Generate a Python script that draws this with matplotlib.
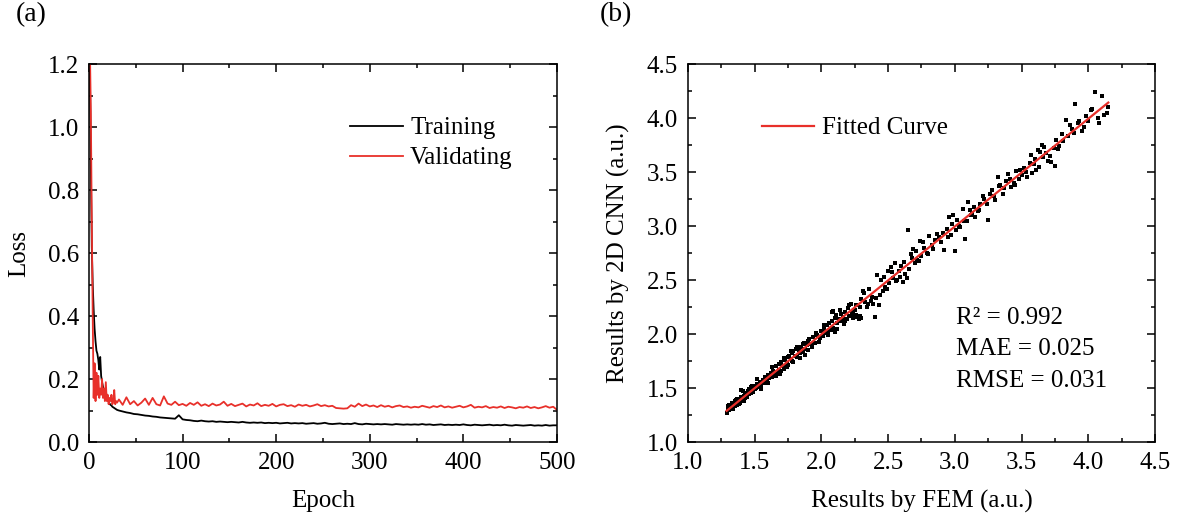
import numpy as np
import matplotlib
matplotlib.use("Agg")
import matplotlib.pyplot as plt
from matplotlib.ticker import MultipleLocator

plt.rcParams['font.family'] = ['Liberation Serif', 'DejaVu Serif']

# (a) loss history: epochs 1-30 every epoch, then every 4th epoch
epochs = np.concatenate([np.arange(1, 31), np.arange(32, 501, 4)])

train_loss = [
    1.18, 0.88, 0.62, 0.50, 0.42, 0.36, 0.32, 0.29, 0.28, 0.26,
    0.23, 0.27, 0.21, 0.19, 0.175, 0.165, 0.155, 0.16, 0.145, 0.135,
    0.128, 0.122, 0.118, 0.116, 0.112, 0.110, 0.108, 0.106, 0.104, 0.102,
    0.100, 0.097, 0.094, 0.092, 0.089, 0.088, 0.086, 0.084, 0.083, 0.081,
    0.080, 0.078, 0.077, 0.076, 0.075, 0.074, 0.085, 0.072, 0.070, 0.069,
    0.067, 0.066, 0.068, 0.066, 0.065, 0.066, 0.064, 0.065, 0.064, 0.063,
    0.064, 0.063, 0.062, 0.064, 0.062, 0.061, 0.062, 0.061, 0.062, 0.060,
    0.061, 0.060, 0.061, 0.059, 0.060, 0.061, 0.059, 0.060, 0.059, 0.060,
    0.058, 0.059, 0.060, 0.058, 0.059, 0.061, 0.058, 0.057, 0.058, 0.059,
    0.057, 0.058, 0.057, 0.060, 0.057, 0.056, 0.058, 0.057, 0.056, 0.057,
    0.056, 0.057, 0.056, 0.055, 0.057, 0.056, 0.055, 0.056, 0.055, 0.056,
    0.055, 0.057, 0.055, 0.056, 0.054, 0.055, 0.056, 0.054, 0.055, 0.054,
    0.055, 0.054, 0.056, 0.054, 0.053, 0.055, 0.054, 0.053, 0.054, 0.055,
    0.053, 0.054, 0.053, 0.055, 0.053, 0.052, 0.054, 0.053, 0.052, 0.053,
    0.054, 0.052, 0.053, 0.052, 0.054, 0.052, 0.053, 0.053,
]

val_loss = [
    1.25, 1.05, 0.70, 0.40, 0.14, 0.25, 0.13, 0.22, 0.15, 0.21,
    0.14, 0.17, 0.15, 0.20, 0.14, 0.17, 0.13, 0.19, 0.13, 0.15,
    0.12, 0.14, 0.13, 0.15, 0.12, 0.13, 0.165, 0.12, 0.13, 0.125,
    0.135, 0.118, 0.142, 0.120, 0.130, 0.116, 0.125, 0.138, 0.118, 0.140,
    0.120, 0.116, 0.145, 0.122, 0.118, 0.128, 0.117, 0.121, 0.115, 0.124,
    0.118, 0.126, 0.115, 0.120, 0.114, 0.122, 0.116, 0.119, 0.128, 0.115,
    0.121, 0.114, 0.118, 0.122, 0.113, 0.119, 0.116, 0.123, 0.114, 0.118,
    0.115, 0.121, 0.113, 0.118, 0.120, 0.114, 0.117, 0.112, 0.119, 0.115,
    0.118, 0.113, 0.116, 0.120, 0.114, 0.117, 0.113, 0.115, 0.108, 0.107,
    0.106, 0.107, 0.117, 0.112, 0.122, 0.114, 0.119, 0.113, 0.116, 0.111,
    0.117, 0.112, 0.115, 0.110, 0.114, 0.116, 0.111, 0.113, 0.109, 0.112,
    0.110, 0.115, 0.112, 0.109, 0.114, 0.111, 0.116, 0.110, 0.113, 0.109,
    0.112, 0.115, 0.110, 0.113, 0.118, 0.109, 0.112, 0.110, 0.114, 0.108,
    0.111, 0.109, 0.113, 0.108, 0.112, 0.110, 0.107, 0.111, 0.109, 0.113,
    0.108, 0.111, 0.107, 0.110, 0.114, 0.109, 0.112, 0.102,
]

# (b) FEM vs CNN predictions
fem_x = [
    1.29, 1.30, 1.30, 1.31, 1.32, 1.32, 1.33, 1.33, 1.34, 1.35, 1.35, 1.36, 1.37, 1.37, 1.38, 1.39, 1.39, 1.40,
    1.40, 1.41, 1.42, 1.42, 1.43, 1.44, 1.45, 1.45, 1.46, 1.47, 1.47, 1.48, 1.49, 1.49, 1.50, 1.50, 1.41,
    1.51, 1.52, 1.53, 1.54, 1.55, 1.56, 1.57, 1.58, 1.58, 1.59, 1.60, 1.61, 1.62, 1.63, 1.64, 1.65, 1.66,
    1.67, 1.68, 1.68, 1.69, 1.70, 1.71, 1.72, 1.73, 1.74, 1.75, 1.75, 1.76, 1.77, 1.78, 1.78, 1.79, 1.80,
    1.81, 1.82, 1.83, 1.84, 1.85, 1.86, 1.87, 1.88, 1.89, 1.90, 1.91, 1.92, 1.94, 1.95, 1.97, 1.99,
    2.00, 2.01, 2.02, 2.03, 2.04, 2.05, 2.06, 2.07, 2.08, 2.08, 2.09, 2.10, 2.10, 2.11, 2.12, 2.13, 2.14,
    2.15, 2.16, 2.17, 2.18, 2.19, 2.20, 2.21, 2.22, 2.23, 2.24, 2.25, 2.26, 2.27, 2.28, 2.29, 2.30, 2.30,
    2.32, 2.33, 2.35, 2.36, 2.38, 2.40,
    2.41, 2.42, 2.43, 2.45, 2.46, 2.48, 2.50, 2.51, 2.52, 2.54, 2.55, 2.56, 2.58, 2.59, 2.60, 2.61, 2.63,
    2.65, 2.66, 2.68, 2.70, 2.71, 2.72, 2.74, 2.75, 2.77, 2.79, 2.81, 2.83, 2.85, 2.88, 2.90, 2.92, 2.94, 2.96,
    2.97, 2.98, 3.00, 3.01, 3.02, 3.04, 3.06, 3.08, 3.09, 3.10, 3.12, 3.14, 3.15, 3.17, 3.19, 3.22, 3.25,
    3.26, 3.28, 3.30, 3.32, 3.34, 3.36, 3.38, 3.40, 3.42, 3.44, 3.46, 3.48, 3.50,
    3.52, 3.54, 3.56, 3.57, 3.58, 3.60, 3.62, 3.63, 3.65, 3.66, 3.68, 3.70, 3.72, 3.74, 3.75, 3.76, 3.78,
    3.80, 3.83, 3.85, 3.88, 3.90, 3.92, 3.95, 3.98, 4.00, 4.03, 4.05, 4.08, 4.10, 4.12, 4.15,
    1.31, 1.34, 1.36, 1.38, 1.43, 1.46, 1.48, 1.52, 1.55, 1.60,
    1.63, 1.66, 1.70, 1.72, 1.74, 1.77, 1.79, 1.82, 1.84, 1.86,
    1.88, 1.90, 1.93, 1.96, 1.98, 2.02, 2.05, 2.09, 2.12, 2.15,
    2.18, 2.21, 2.24, 2.26, 2.29, 2.31, 2.34, 2.37, 2.39, 2.44,
    2.47, 2.49, 2.53, 2.57, 2.62, 2.64, 2.67, 2.69, 2.73, 2.76,
    2.80, 2.84, 2.87, 2.91, 2.95, 2.99, 3.03, 3.07, 3.11, 3.13,
    3.18, 3.21, 3.24, 3.29, 3.33, 3.37, 3.41, 3.45, 3.49, 3.53,
    3.59, 3.61, 3.64, 3.67, 3.71, 3.77, 3.81, 3.86, 3.89, 3.93,
    3.97, 4.02, 4.07, 4.14,
]
cnn_y = [
    1.27, 1.31, 1.33, 1.30, 1.34, 1.32, 1.36, 1.31, 1.35, 1.33, 1.38, 1.36, 1.34, 1.40, 1.37, 1.39, 1.36, 1.42,
    1.48, 1.40, 1.43, 1.38, 1.45, 1.42, 1.47, 1.44, 1.49, 1.45, 1.51, 1.47, 1.50, 1.46, 1.52, 1.49, 1.47,
    1.50, 1.54, 1.51, 1.56, 1.52, 1.57, 1.55, 1.60, 1.56, 1.58, 1.62, 1.59, 1.64, 1.60, 1.66, 1.63, 1.70,
    1.65, 1.72, 1.67, 1.63, 1.74, 1.70, 1.68, 1.76, 1.73, 1.79, 1.71, 1.80, 1.77, 1.82, 1.75, 1.84, 1.80,
    1.86, 1.79, 1.85, 1.82, 1.88, 1.83, 1.92, 1.86, 1.90, 1.85, 1.95, 1.91, 1.97, 1.92, 1.99, 1.96,
    2.03, 1.98, 2.05, 2.01, 2.08, 2.03, 2.10, 2.04, 2.12, 2.20, 2.06, 2.15, 2.02, 2.18, 2.10, 2.14, 2.22,
    2.12, 2.16, 2.09, 2.20, 2.14, 2.24, 2.17, 2.28, 2.19, 2.15, 2.22, 2.27, 2.16, 2.14, 2.25, 2.32, 2.15,
    2.38, 2.30, 2.28, 2.42, 2.34, 2.16,
    2.33, 2.55, 2.27, 2.50, 2.40, 2.44, 2.58, 2.47, 2.62, 2.52, 2.66, 2.49, 2.58, 2.53, 2.63, 2.48, 2.56,
    2.96, 2.60, 2.70, 2.66, 2.77, 2.69, 2.86, 2.72, 2.80, 2.75, 2.91, 2.82, 2.87, 2.90, 2.85, 2.78, 2.97, 3.08,
    2.92, 3.02, 2.77, 2.96, 3.06, 2.99, 3.16, 2.88, 3.05, 3.22, 3.10, 3.18, 3.08, 3.14, 3.20, 3.25, 3.06,
    3.30, 3.33, 3.24, 3.45, 3.38, 3.30, 3.42, 3.48, 3.36, 3.40, 3.51, 3.44, 3.47,
    3.54, 3.45, 3.58, 3.66, 3.49, 3.62, 3.70, 3.55, 3.75, 3.64, 3.68, 3.60, 3.59, 3.72, 3.56, 3.80, 3.74,
    3.85, 3.98, 3.83, 3.90, 4.13, 3.95, 3.88, 4.02, 3.97, 4.08, 4.24, 3.95, 4.20, 4.03, 4.10,
    1.34, 1.31, 1.39, 1.35, 1.41, 1.44, 1.52, 1.58, 1.49, 1.55,
    1.69, 1.61, 1.66, 1.78, 1.69, 1.84, 1.74, 1.88, 1.78, 1.91,
    1.81, 1.94, 1.88, 2.01, 1.93, 2.08, 1.99, 2.21, 2.05, 2.19,
    2.12, 2.27, 2.20, 2.18, 2.17, 2.40, 2.25, 2.31, 2.28, 2.36,
    2.53, 2.42, 2.57, 2.50, 2.67, 2.52, 2.74, 2.79, 2.68, 2.85,
    2.74, 2.79, 2.93, 2.94, 2.90, 3.10, 3.00, 3.05, 3.15, 3.12,
    3.15, 3.28, 3.20, 3.28, 3.37, 3.35, 3.44, 3.38, 3.52, 3.50,
    3.57, 3.52, 3.69, 3.73, 3.65, 3.71, 3.79, 3.94, 3.86, 3.97,
    3.92, 4.07, 4.00, 4.05,
]

fit_label = "Fitted Curve"
stats_text = ["R\u00b2 = 0.992", "MAE = 0.025", "RMSE = 0.031"]

red = "#e8302a"

fig = plt.figure(figsize=(11.8, 5.21), dpi=100)
ax1 = fig.add_axes([0.0754, 0.1516, 0.3966, 0.7255])
ax2 = fig.add_axes([0.583, 0.1516, 0.3958, 0.7255])

ax1.plot(epochs, train_loss, color="black", lw=1.3, label="Training")
ax1.plot(epochs, val_loss, color=red, lw=1.3, label="Validating")
ax1.set_xlim(0, 500)
ax1.set_ylim(0, 1.2)
ax1.xaxis.set_major_locator(MultipleLocator(100))
ax1.xaxis.set_minor_locator(MultipleLocator(50))
ax1.yaxis.set_major_locator(MultipleLocator(0.2))
ax1.yaxis.set_minor_locator(MultipleLocator(0.1))
ax1.yaxis.set_major_formatter(matplotlib.ticker.FormatStrFormatter("%.1f"))
ax1.set_xlabel("Epoch", fontsize=18, labelpad=12)
ax1.set_ylabel("Loss", fontsize=18, labelpad=13)
ax1.legend(loc="upper left", bbox_to_anchor=(0.51, 0.92), frameon=False, fontsize=18,
           handlelength=2.1, handletextpad=0.3, labelspacing=0.3)

ax2.scatter(fem_x, cnn_y, s=6, marker="s", color="black", linewidths=0, zorder=2)
slope, intercept = np.polyfit(fem_x, cnn_y, 1)
xf = np.array([min(fem_x), max(fem_x)])
ax2.plot(xf, slope * xf + intercept, color=red, lw=1.6, label=fit_label, zorder=3)
ax2.set_xlim(1.0, 4.5)
ax2.set_ylim(1.0, 4.5)
for axis in (ax2.xaxis, ax2.yaxis):
    axis.set_major_locator(MultipleLocator(0.5))
    axis.set_minor_locator(MultipleLocator(0.25))
    axis.set_major_formatter(matplotlib.ticker.FormatStrFormatter("%.1f"))
ax2.set_xlabel("Results by FEM (a.u.)", fontsize=18, labelpad=12)
ax2.set_ylabel("Results by 2D CNN (a.u.)", fontsize=18, labelpad=12)
ax2.legend(loc="upper left", bbox_to_anchor=(0.11, 0.92), frameon=False, fontsize=18,
           handlelength=2.1, handletextpad=0.3)
for i, s in enumerate(stats_text):
    ax2.text(0.574, 0.328 - i * 0.083, s, transform=ax2.transAxes, fontsize=18, va="center")

for ax in (ax1, ax2):
    ax.tick_params(which="both", direction="in", top=True, right=True, labelsize=18, width=1.1)
    ax.tick_params(which="major", length=6, pad=7)
    ax.tick_params(which="minor", length=3)
    for sp in ax.spines.values():
        sp.set_linewidth(1.1)

fig.text(0.0136, 0.971, "(a)", fontsize=20, va="center")
fig.text(0.508, 0.971, "(b)", fontsize=20, va="center")

fig.savefig("out.png", dpi=100)
